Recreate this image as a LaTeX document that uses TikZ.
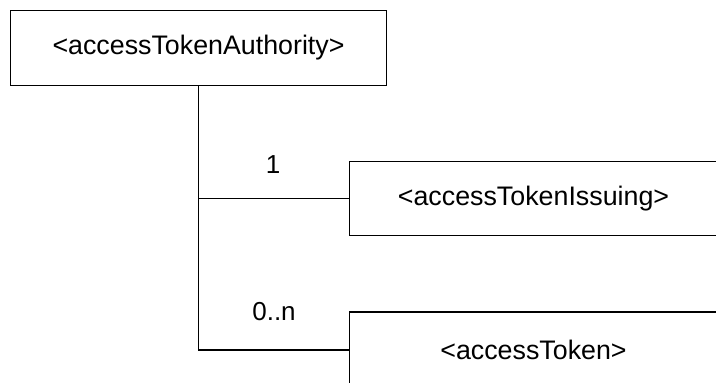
\documentclass[tikz,border=0pt]{standalone}
\usepackage{fontspec}
\setmainfont{Liberation Sans}
\begin{document}
\begin{tikzpicture}[x=1pt,y=-1pt,
  box/.style={draw,line width=1.2pt,rectangle,inner sep=0pt,font=\fontsize{26.8}{30}\selectfont},
  mult/.style={inner sep=0pt,anchor=base,font=\fontsize{26}{30}\selectfont},
  conn/.style={line width=1.2pt}]
\useasboundingbox (0,0) rectangle (716,383);
\clip (0,0) rectangle (716,383);
\node[box,minimum width=376pt,minimum height=75pt] (auth) at (198.5,48) {<accessTokenAuthority>};
\node[box,minimum width=368pt,minimum height=74pt] (iss) at (533.5,198.5) {<accessTokenIssuing>};
\node[box,minimum width=368pt,minimum height=76pt] (tok) at (533.5,350) {<accessToken>};
\draw[conn] (auth.south) |- (tok.west);
\draw[conn] (auth.south |- iss.west) -- (iss.west);
\node[mult] (m1) at (273,173) {1};
\node[mult] (m2) at (274,320) {0..n};
\end{tikzpicture}
\end{document}
